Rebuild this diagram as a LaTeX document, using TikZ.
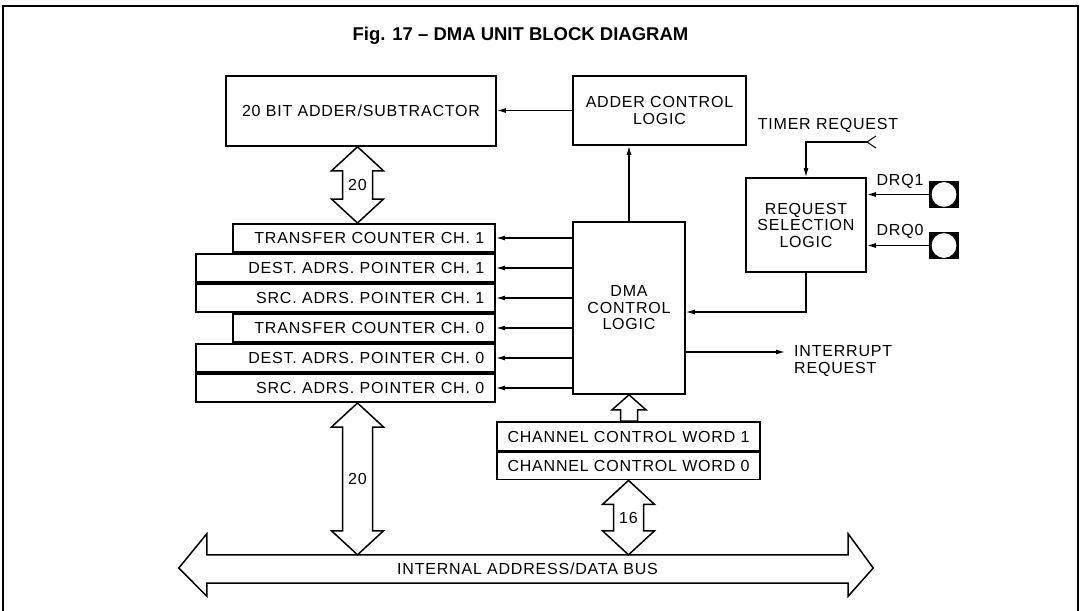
\documentclass[tikz,border=0pt]{standalone}
\usepackage{fontspec}
\setmainfont{Liberation Sans}
\newfontfamily\boxfont{Liberation Sans}[LetterSpace=5]
\usetikzlibrary{arrows.meta, positioning, calc}

% fat double-headed bus arrow: top point, bottom point, width label, label name
\newcommand{\busarrow}[4]{%
  \draw[bus] let \p1=(#1), \p2=(#2) in
    (\x1,\y1) -- (\x1-26pt,\y1-24pt) -- (\x1-15pt,\y1-24pt) -- (\x1-15pt,\y2+24pt)
    -- (\x1-26pt,\y2+24pt) -- (\x1,\y2) -- (\x1+26pt,\y2+24pt) -- (\x1+15pt,\y2+24pt)
    -- (\x1+15pt,\y1-24pt) -- (\x1+26pt,\y1-24pt) -- cycle
    ($(\p1)!0.5!(\p2)$) node[etiq] (#4) {#3};
}

\begin{document}
\begin{tikzpicture}[x=1pt, y=-1pt,
  caja/.style={draw, line width=1.6pt, inner sep=0pt, align=center,
               font=\boxfont\fontsize{16}{16.5}\selectfont},
  reg/.style={draw, line width=1.6pt, inner xsep=11pt, inner ysep=0pt,
              minimum height=28.4pt, align=right, anchor=north east,
              font=\boxfont\fontsize{16}{16.5}\selectfont},
  etiq/.style={inner sep=0pt, align=center, font=\boxfont\fontsize{16}{16.5}\selectfont},
  flecha/.style={-{Latex[length=9pt, width=5pt]}, line width=1.3pt},
  bus/.style={draw, line width=1.5pt, line join=miter},
  pad/.style={draw, line width=1.5pt, fill=black, minimum width=28pt,
              minimum height=26pt, inner sep=0pt,
              path picture={\draw[fill=white, line width=1pt]
                (path picture bounding box.center) circle (13pt);}}
]
\useasboundingbox (0,0) rectangle (1080,611);
\draw[line width=1.2pt] (3,611) -- (3,6) -- (1078,6) -- (1078,611);

\node[font=\bfseries\fontsize{18.5}{20}\selectfont] (titulo) at (520.5,36)
  {Fig. 17 -- DMA UNIT BLOCK DIAGRAM};

% main blocks
\node[caja, minimum width=270pt, minimum height=70pt] (adder) at (361,111) {20 BIT ADDER/SUBTRACTOR};
\node[caja, minimum width=173pt, minimum height=69pt] (acl) at (659.5,110.5) {ADDER CONTROL\\LOGIC};
\node[caja, minimum width=120pt, minimum height=94pt] (rsl) at (806,225) {REQUEST\\SELECTION\\LOGIC};
\node[caja, minimum width=112pt, minimum height=172pt] (dma) at (629,308) {DMA\\CONTROL\\LOGIC};

% register stack
\node[reg, text width=240pt] (tc1) at (496,223) {TRANSFER COUNTER CH. 1};
\node[reg, text width=277pt, below=0pt of tc1.south east, anchor=north east] (dst1) {DEST. ADRS. POINTER CH. 1};
\node[reg, text width=277pt, below=0pt of dst1.south east, anchor=north east] (src1) {SRC. ADRS. POINTER CH. 1};
\node[reg, text width=240pt, below=0pt of src1.south east, anchor=north east] (tc0) {TRANSFER COUNTER CH. 0};
\node[reg, text width=277pt, below=0pt of tc0.south east, anchor=north east] (dst0) {DEST. ADRS. POINTER CH. 0};
\node[reg, text width=277pt, below=0pt of dst0.south east, anchor=north east] (src0) {SRC. ADRS. POINTER CH. 0};

% channel control words
\node[caja, minimum width=263pt, minimum height=29pt] (ccw1) at (628.5,436.5) {CHANNEL CONTROL WORD 1};
\node[caja, minimum width=263pt, minimum height=27pt, below=0pt of ccw1] (ccw0) {CHANNEL CONTROL WORD 0};

% request inputs
\node[pad] (pad1) at (944,194.5) {};
\node[pad] (pad0) at (944,245.5) {};
\node[etiq] (drq1) at (900,181) {DRQ1};
\node[etiq] (drq0) at (900,231.5) {DRQ0};
\node[etiq] (tmrl) at (828,125) {TIMER REQUEST};
\coordinate (tmr) at (867,142);
\coordinate (irq) at (785,352);
\node[etiq, align=left, anchor=west] (irql) at (794,361) {INTERRUPT\\REQUEST};

% internal bus
\node[etiq, minimum width=641pt, minimum height=28pt] (bus) at (527.5,569) {INTERNAL ADDRESS/DATA BUS};
\draw[bus] (bus.north west) -- (bus.north east) -- ([yshift=21pt]bus.north east)
  -- ([xshift=25pt, yshift=1pt]bus.east) -- ([yshift=-13pt]bus.south east)
  -- (bus.south east) -- (bus.south west) -- ([yshift=-13pt]bus.south west)
  -- ([xshift=-28pt, yshift=1pt]bus.west) -- ([yshift=21pt]bus.north west) -- cycle;

% control connections
\draw[flecha] (acl.west) -- (acl.west -| adder.east);
\draw[flecha] (dma.north) -- (dma.north |- acl.south);
\draw[flecha] (dma.west |- tc1.east) -- (tc1.east);
\draw[flecha] (dma.west |- dst1.east) -- (dst1.east);
\draw[flecha] (dma.west |- src1.east) -- (src1.east);
\draw[flecha] (dma.west |- tc0.east) -- (tc0.east);
\draw[flecha] (dma.west |- dst0.east) -- (dst0.east);
\draw[flecha] (dma.west |- src0.east) -- (src0.east);
\draw[flecha] (tmr) -| (rsl.north);
\draw[line width=1pt] (tmr) -- ++(9,-6) (tmr) -- ++(9,6);
\draw[flecha] (pad1.west) -- (pad1.west -| rsl.east);
\draw[flecha] (pad0.west) -- (pad0.west -| rsl.east);
\draw[flecha] (rsl.south) |- ([yshift=-4pt]dma.east);
\draw[flecha] (dma.east |- irq) -- (irq);

% data paths
\coordinate (busx) at (357.5,0);
\busarrow{adder.south -| busx}{tc1.north -| busx}{20}{w20a}
\busarrow{src0.south -| busx}{bus.north -| busx}{20}{w20b}
\busarrow{ccw0.south}{bus.north -| ccw0.south}{16}{w16}
\draw[bus] let \p1=(dma.south), \p2=(ccw1.north) in
  (\x1,\y1) -- (\x1-17pt,\y1-15pt) -- (\x1-8.5pt,\y1-15pt) -- (\x1-8.5pt,\y2)
  -- (\x1+8.5pt,\y2) -- (\x1+8.5pt,\y1-15pt) -- (\x1+17pt,\y1-15pt) -- cycle;
\end{tikzpicture}
\end{document}
